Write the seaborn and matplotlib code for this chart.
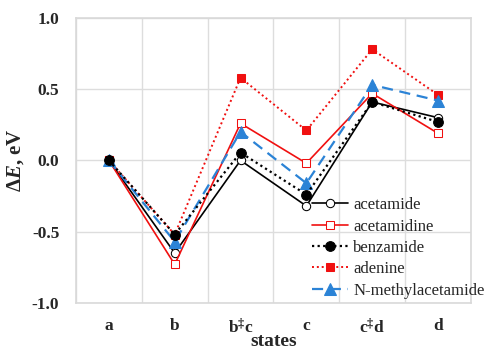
import matplotlib
matplotlib.use("Agg")
import matplotlib.pyplot as plt
import seaborn as sns
import numpy as np
from matplotlib.ticker import MultipleLocator, FixedLocator

states = ["a", "b", "b$^{\u2021}$c", "c", "c$^{\u2021}$d", "d"]
acetamide = [0.0, -0.65, 0.00, -0.32, 0.41, 0.30]
acetamidine = [0.0, -0.73, 0.26, -0.02, 0.47, 0.19]
benzamide = [0.0, -0.52, 0.055, -0.24, 0.41, 0.27]
adenine = [0.0, -0.52, 0.58, 0.21, 0.78, 0.46]
n_methylacetamide = [0.0, -0.57, 0.20, -0.16, 0.53, 0.42]

sns.set_theme(style="whitegrid")
plt.rcParams["font.family"] = ["Liberation Serif", "DejaVu Serif"]
plt.rcParams["mathtext.fontset"] = "custom"
plt.rcParams["mathtext.rm"] = "Liberation Serif:bold"
plt.rcParams["mathtext.it"] = "Liberation Serif:bold:italic"
plt.rcParams["mathtext.bf"] = "Liberation Serif:bold"

fig, ax = plt.subplots(figsize=(4.87, 3.51), dpi=100)
fig.subplots_adjust(left=0.156, right=0.967, top=0.949, bottom=0.137)

blue = "#2b83d6"
red = "#f01010"
series = [
    ("acetamide", acetamide, dict(color="black", linestyle="-", marker="o", markerfacecolor="white", markeredgecolor="black", markersize=6, linewidth=1.2, zorder=3)),
    ("acetamidine", acetamidine, dict(color=red, linestyle="-", marker="s", markerfacecolor="white", markeredgecolor=red, markersize=6, linewidth=1.2, zorder=3)),
    ("benzamide", benzamide, dict(color="black", linestyle=(0, (1, 1.5)), marker="o", markerfacecolor="black", markeredgecolor="black", markersize=7, linewidth=1.6, zorder=5)),
    ("adenine", adenine, dict(color=red, linestyle=(0, (1, 1.5)), marker="s", markerfacecolor=red, markeredgecolor=red, markersize=6, linewidth=1.4, zorder=3)),
    ("N-methylacetamide", n_methylacetamide, dict(color=blue, linestyle=(0, (5, 3)), marker="^", markerfacecolor=blue, markeredgecolor=blue, markersize=8, linewidth=1.6, zorder=4)),
]
xpos = np.arange(len(states))
for name, vals, kw in series:
    sns.lineplot(x=xpos, y=vals, ax=ax, label=name, **kw)

ax.set_xlim(-0.5, 5.5)
ax.set_ylim(-1.0, 1.0)
ax.xaxis.set_major_locator(FixedLocator(xpos))
ax.set_xticklabels(states)
ax.xaxis.set_minor_locator(FixedLocator(np.arange(-0.5, 6, 1)))
ax.grid(False)
ax.grid(True, which="minor", axis="x", color="#dddddd", linewidth=1)
ax.grid(True, which="major", axis="y", color="#dddddd", linewidth=1)
ax.tick_params(axis="both", which="both", length=0)
ax.tick_params(axis="both", labelsize=12.5)
ax.set_yticks([1.0, 0.5, 0.0, -0.5, -1.0])
ax.set_yticklabels(["1.0", "0.5", "0.0", "-0.5", "-1.0"])
for lab in ax.get_xticklabels() + ax.get_yticklabels():
    lab.set_fontweight("bold")
ax.tick_params(axis="x", pad=11)
ax.tick_params(axis="y", pad=12)
for s in ax.spines.values():
    s.set_color("#d9d9d9")
    s.set_linewidth(1.2)

ax.set_xlabel("states", fontsize=14, fontweight="bold", labelpad=-3)
ax.set_ylabel("\u0394$\\it{E}$, eV", fontsize=15, fontweight="bold", labelpad=4)

leg = ax.legend(loc="lower right", bbox_to_anchor=(1.06, -0.02), frameon=False,
                fontsize=12, handlelength=2.2, handletextpad=0.3, labelspacing=0.32,
                borderaxespad=0.2)

fig.savefig("out.png", dpi=100)
